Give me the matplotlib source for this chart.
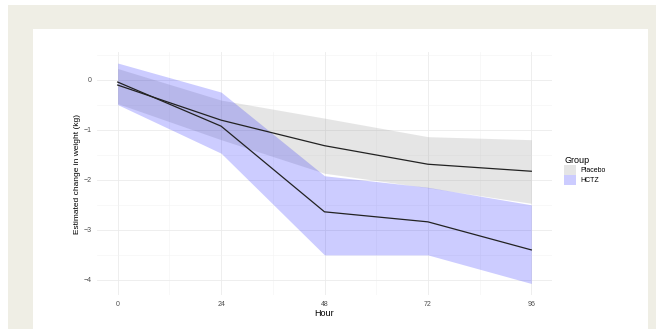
import matplotlib
matplotlib.use("Agg")
import matplotlib.pyplot as plt
from matplotlib.patches import Rectangle, Patch

plt.rcParams["font.family"] = ["Liberation Sans", "DejaVu Sans"]

# estimated weight change by hour
hours = [0, 24, 48, 72, 96]

placebo_mean = [-0.11, -0.81, -1.32, -1.69, -1.83]
placebo_lo = [-0.48, -1.20, -1.87, -2.16, -2.47]
placebo_hi = [0.22, -0.41, -0.77, -1.14, -1.20]

hctz_mean = [-0.05, -0.93, -2.64, -2.84, -3.40]
hctz_lo = [-0.50, -1.47, -3.50, -3.50, -4.07]
hctz_hi = [0.33, -0.25, -1.92, -2.15, -2.50]

groups = ["Placebo", "HCTZ"]
fill_cols = ["grey", "blue"]

W, H = 664, 329
fig = plt.figure(figsize=(W / 100, H / 100), dpi=100, facecolor="white")
# page background + white panel
fig.patches.append(Rectangle((8 / W, 0), (656 - 8) / W, (H - 5) / H,
                             transform=fig.transFigure, facecolor="#efeee5",
                             edgecolor="none", zorder=-2))
fig.patches.append(Rectangle((33 / W, 0), (648 - 33) / W, (H - 29) / H,
                             transform=fig.transFigure, facecolor="white",
                             edgecolor="none", zorder=-1))

ax = fig.add_axes([97 / W, 1 - 295 / H, (552 - 97) / W, (295 - 52) / H])
ax.set_facecolor("none")

ax.fill_between(hours, placebo_lo, placebo_hi, color=fill_cols[0], alpha=0.2, lw=0)
ax.fill_between(hours, hctz_lo, hctz_hi, color=fill_cols[1], alpha=0.2, lw=0)
ax.plot(hours, placebo_mean, color="#222222", lw=0.9)
ax.plot(hours, hctz_mean, color="#222222", lw=0.9)

ax.set_xlim(-4.8, 100.8)
ax.set_ylim(-4.3, 0.55)
ax.set_xticks(hours)
ax.set_xticks([12, 36, 60, 84], minor=True)
ax.set_yticks([0, -1, -2, -3, -4])
ax.set_yticklabels(["0", "\u22121", "\u22122", "\u22123", "\u22124"])
ax.set_yticks([0.5, -0.5, -1.5, -2.5, -3.5], minor=True)

ax.grid(True, which="major", color="#ebebeb", lw=0.6)
ax.grid(True, which="minor", color="#f3f3f3", lw=0.4)
ax.set_axisbelow(True)
for s in ax.spines.values():
    s.set_visible(False)
ax.tick_params(which="both", length=0, labelsize=5, labelcolor="#4d4d4d", pad=4)

ax.set_xlabel("Hour", fontsize=6.5, color="black", labelpad=1)
ax.set_ylabel("Estimated change in weight (kg)", fontsize=6, color="black", labelpad=2)

handles = [Patch(facecolor=c, alpha=0.2, edgecolor="none") for c in fill_cols]
leg = ax.legend(handles, groups, title="Group", loc="upper left",
                bbox_to_anchor=(562 / W, 1 - 154 / H), bbox_transform=fig.transFigure,
                frameon=False, fontsize=5, title_fontsize=6.5,
                handlelength=1.7, handleheight=1.7, handletextpad=0.6,
                labelspacing=0.05, borderaxespad=0, borderpad=0.3)
leg._legend_box.align = "left"

fig.savefig("out.png", dpi=100, facecolor="white")
